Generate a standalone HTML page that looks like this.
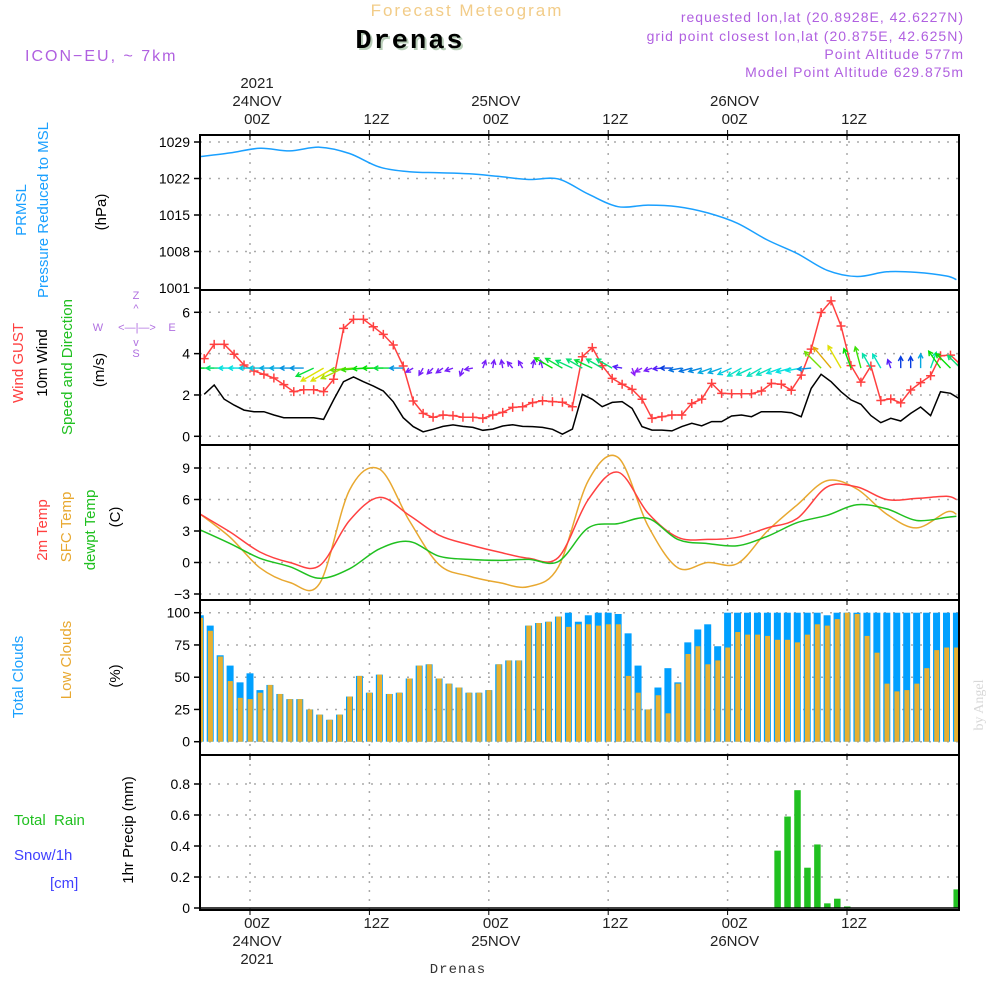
<!DOCTYPE html>
<html><head><meta charset="utf-8"><style>
body{margin:0;background:#fff;}
svg text{font-family:"Liberation Sans",sans-serif;}
</style></head><body>
<svg id="c" width="1000" height="1000" viewBox="0 0 1000 1000" xmlns="http://www.w3.org/2000/svg">
<rect width="1000" height="1000" fill="#fff"/>
<text x="467" y="16" text-anchor="middle" font-size="17" fill="#f2cc88" letter-spacing="2">Forecast Meteogram</text>
<text x="412" y="50" text-anchor="middle" font-size="27" font-weight="bold" fill="#b8cdb8" letter-spacing="2" style="font-family:'Liberation Mono',monospace">Drenas</text>
<text x="410" y="48" text-anchor="middle" font-size="27" font-weight="bold" fill="#000" letter-spacing="2" style="font-family:'Liberation Mono',monospace">Drenas</text>
<text x="25" y="61" font-size="16" fill="#b060e0" letter-spacing="2">ICON−EU, ~ 7km</text>
<g font-size="14" fill="#b060e0" text-anchor="end" letter-spacing="1">
<text x="964" y="22">requested lon,lat (20.8928E, 42.6227N)</text>
<text x="964" y="41">grid point closest lon,lat (20.875E, 42.625N)</text>
<text x="964" y="59">Point Altitude 577m</text>
<text x="964" y="77">Model Point Altitude 629.875m</text>
</g>
<g id="axes"></g>
<g id="labels" font-size="15">
<g>
<text transform="translate(26,210) rotate(-90)" text-anchor="middle" fill="#1aa0ff">PRMSL</text>
<text transform="translate(48,210) rotate(-90)" text-anchor="middle" fill="#1aa0ff">Pressure Reduced to MSL</text>
<text transform="translate(106,212) rotate(-90)" text-anchor="middle" fill="#000">(hPa)</text>
</g>
<g>
<text transform="translate(23,363) rotate(-90)" text-anchor="middle" fill="#ff4040">Wind GUST</text>
<text transform="translate(47,363) rotate(-90)" text-anchor="middle" fill="#000">10m Wind</text>
<text transform="translate(72,367) rotate(-90)" text-anchor="middle" fill="#20c020">Speed and Direction</text>
<text transform="translate(104,370) rotate(-90)" text-anchor="middle" fill="#000">(m/s)</text>
</g>
<g font-size="11" fill="#b070e0">
<text x="136" y="299" text-anchor="middle">Z</text>
<text x="136" y="312" text-anchor="middle">^</text>
<text x="98" y="331" text-anchor="middle">W</text>
<text x="137" y="331" text-anchor="middle">&lt;—|—&gt;</text>
<text x="172" y="331" text-anchor="middle">E</text>
<text x="136" y="346" text-anchor="middle">v</text>
<text x="136" y="357" text-anchor="middle">S</text>
</g>
<g>
<text transform="translate(47,530) rotate(-90)" text-anchor="middle" fill="#ff4040">2m Temp</text>
<text transform="translate(71,527) rotate(-90)" text-anchor="middle" fill="#e8a830">SFC Temp</text>
<text transform="translate(95,530) rotate(-90)" text-anchor="middle" fill="#20c020">dewpt Temp</text>
<text transform="translate(120,517) rotate(-90)" text-anchor="middle" fill="#000">(C)</text>
</g>
<g>
<text transform="translate(23,677) rotate(-90)" text-anchor="middle" fill="#1aa0ff">Total Clouds</text>
<text transform="translate(71,660) rotate(-90)" text-anchor="middle" fill="#e8a830">Low Clouds</text>
<text transform="translate(120,676) rotate(-90)" text-anchor="middle" fill="#000">(%)</text>
</g>
<g>
<text x="14" y="825" fill="#20c020" xml:space="preserve">Total  Rain</text>
<text x="14" y="860" fill="#4040ff">Snow/1h</text>
<text x="50" y="888" fill="#4040ff">[cm]</text>
<text transform="translate(133,830) rotate(-90)" text-anchor="middle" fill="#000">1hr Precip (mm)</text>
</g>
<text transform="translate(983,705) rotate(-90)" text-anchor="middle" font-size="14" fill="#d8d8d8" style="font-family:'Liberation Serif',serif">by Angel</text>
<text x="458" y="973" text-anchor="middle" font-size="14" fill="#333" letter-spacing="1" style="font-family:'Liberation Mono',monospace">Drenas</text>
</g>
<g id="plot"></g>
</svg>
<script>
// ---- data (hour index relative to 00Z 24NOV) ----
const hourStart = -5;
const cloudTotal = [98,90,67,59,46,53,40,44,37,33,33,25,21,17,21,35,51,38,52,37,38,49,59,60,49,45,42,38,38,40,60,63,63,90,92,93,97,100,93,98,100,100,99,84,59,25,42,57,46,77,87,91,74,100,100,100,100,100,100,100,100,100,100,98,100,100,100,100,100,100,100,100,100,100,100,100,100];
const cloudLow = [96,86,66,47,34,33,38,44,37,33,33,25,21,17,21,35,51,38,52,37,38,49,59,60,49,45,42,38,38,40,60,63,63,90,92,93,97,89,91,91,90,91,91,51,38,25,36,22,45,68,74,60,63,73,85,83,83,82,79,79,77,83,91,90,95,100,99,82,69,45,39,40,45,57,71,73,73];
const windGust = [3.76,4.45,4.45,3.97,3.45,3.16,3.0,2.82,2.5,2.16,2.25,2.25,2.16,2.76,5.22,5.66,5.66,5.3,4.93,4.42,3.4,1.71,1.11,0.92,1.03,1.0,0.92,0.92,0.87,1.03,1.16,1.4,1.43,1.63,1.72,1.68,1.65,1.43,3.85,4.29,3.42,2.8,2.52,2.27,1.79,0.87,0.95,1.03,1.03,1.59,1.8,2.56,2.08,2.06,2.06,2.06,2.19,2.56,2.52,2.23,2.96,4.22,5.99,6.55,5.34,3.42,2.62,3.4,1.73,1.81,1.62,2.24,2.6,2.93,3.9,3.93,3.48];
const wind10m = [2.03,2.48,1.8,1.51,1.27,1.19,1.19,1.03,0.9,0.9,0.9,0.9,0.82,1.76,2.64,2.87,2.64,2.43,2.19,1.67,0.9,0.47,0.22,0.34,0.48,0.55,0.48,0.43,0.29,0.35,0.5,0.56,0.48,0.47,0.43,0.34,0.1,0.35,2.03,1.79,1.43,1.64,1.68,1.35,0.47,0.3,0.3,0.26,0.47,0.63,0.51,0.71,0.71,0.98,1.03,0.95,1.19,1.19,1.19,1.14,0.95,2.32,3.0,2.64,2.16,1.76,1.55,1.0,0.66,0.87,0.74,1.11,1.42,1.0,2.16,2.08,1.79];
const arrowDir = [270,270,270,270,270,270,270,270,270,270,270,245,240,240,245,265,265,268,270,270,270,240,210,225,235,250,200,260,20,10,350,320,330,10,345,300,300,295,300,295,300,300,280,160,240,250,265,270,260,255,255,250,250,245,240,245,240,245,250,255,260,265,315,320,330,340,345,330,330,340,0,0,0,20,325,315,315];
const arrowSpd = [6,5.5,5,4,4,3.8,3.8,3.5,3.5,3.3,3.3,5.5,8,8,7.5,7,6.5,6,6,5.5,3.3,1.2,1.2,1.2,1.2,1.2,1.2,1.2,1.2,1.2,1.2,1.2,1.2,1.2,1.2,6,5.5,5,5,5.5,5,5,1.5,1,1,1.2,1.5,2.5,3,3,3.2,3.5,3.5,3.8,4.2,4.3,4.3,4.3,4,4,4,3.3,7,8.5,8,6,6.5,4.5,4.3,1.5,2.5,2.5,3.5,4.5,6,6,5];
const pTimes = [-5,-2,1,4,7,10,13,16,19,22,25,28,31,34,37,40,43,46,49,52,55,58,61,64,67,70,71];
const pressure = [1026.2,1026.9,1027.8,1027.3,1028.0,1026.8,1024.2,1023.3,1023.1,1022.9,1022.4,1021.8,1021.9,1019.0,1016.6,1016.9,1016.6,1015.4,1013.4,1010.2,1007.6,1004.4,1003.2,1004.1,1004.0,1003.3,1002.6];
const tTimes = pTimes;
const temp2m = [4.6,2.9,1.0,0.0,-0.3,4.0,6.2,4.5,2.6,1.7,1.0,0.4,0.5,6.0,8.6,4.7,2.4,2.2,2.4,3.3,4.2,7.2,7.2,6.0,6.1,6.3,6.0];
const tempSfc = [4.6,2.4,-0.5,-1.9,-2.0,6.9,8.9,4.0,-0.2,-1.3,-1.9,-2.3,-0.4,7.8,10.0,3.5,-0.5,0.0,-0.1,3.0,5.5,7.8,7.0,4.6,3.3,4.8,4.6];
const dewpt = [3.1,1.8,0.4,-0.4,-1.5,-0.6,1.3,2.0,0.6,0.3,0.2,0.3,0.1,3.3,3.7,4.2,2.2,1.8,1.6,2.5,3.8,4.5,5.5,5.1,4.0,4.3,4.4];
const rainTimes = [53,54,55,56,57,58,59,60,71];
const rainVals = [0.37,0.59,0.76,0.26,0.41,0.03,0.06,0.01,0.12];
const pTicks = [1029,1022,1015,1008,1001];
const wTicks = [6,4,2,0];
const tTicks = [9,6,3,0,-3];
const cTicks = [100,75,50,25,0];
const rTicks = [0.8,0.6,0.4,0.2,0];
const timeGrid = [0,12,24,36,48,60];
const topTimeLabels = [["2021","24NOV","00Z"],["","","12Z"],["","25NOV","00Z"],["","","12Z"],["","26NOV","00Z"],["","","12Z"]];

// ---- scales ----
const X0=200, X1=959;
const x = h => 250 + h*9.95;
const lin = (d0,d1,r0,r1) => v => r0 + (v-d0)*(r1-r0)/(d1-d0);
const yP = lin(1001,1029,288,142);
const yW = lin(0,6,436.3,312.3);
const yT = lin(-3,9,594,468);
const yC = lin(0,100,741.7,612.7);
const yR = lin(0,0.8,908,784);
const panels = [[135,290],[290,445],[445,600],[600,755],[755,910]];
const NS="http://www.w3.org/2000/svg";
function mk(parent,tag,attrs){const e=document.createElementNS(NS,tag);for(const k in attrs)e.setAttribute(k,attrs[k]);parent.appendChild(e);return e;}
const plot=document.getElementById('plot');
const axes=document.getElementById('axes');
const clip=mk(plot,'clipPath',{id:'cl'});mk(clip,'rect',{x:X0,y:135,width:X1-X0,height:775});

const tickSets=[[pTicks,yP,'pressure'],[wTicks,yW,'wind'],[tTicks,yT,'temperature'],[cTicks,yC,'cloud'],[rTicks,yR,'precip']];
tickSets.forEach(([ticks,sc,nm],pi)=>{
  const g=mk(axes,'g',{});
  
  
  ticks.forEach(v=>{
    const yy=sc(v);
    if(yy>panels[pi][0]+3&&yy<panels[pi][1]-3) mk(g,'line',{x1:X0,x2:X1,y1:yy,y2:yy,stroke:'#aaa','stroke-dasharray':'2,7','stroke-width':1.5});
    mk(g,'line',{x1:X0-6,x2:X0,y1:yy,y2:yy,stroke:'#000','stroke-width':1.5});
    const t=mk(g,'text',{x:X0-10,y:yy+5,'text-anchor':'end','font-size':14,fill:'#000'});
    t.textContent = (nm==='precip' && v===0) ? '0' : (v<0?'−'+(-v):String(v));
  });
  timeGrid.forEach(h=>{
    mk(g,'line',{x1:x(h),x2:x(h),y1:panels[pi][0],y2:panels[pi][1],stroke:'#aaa','stroke-dasharray':'2,7','stroke-width':1.5});
    mk(g,'line',{x1:x(h),x2:x(h),y1:panels[pi][0],y2:panels[pi][0]+5,stroke:'#000','stroke-width':1});
  });
});
const tl=mk(axes,'g',{'font-size':15,fill:'#222','text-anchor':'middle'});


timeGrid.forEach((h,i)=>{
  const lab=topTimeLabels[i];
  [88,106,124].forEach((yy,j)=>{if(lab[j]){const t=mk(tl,'text',{x:x(h)+7,y:yy});t.textContent=lab[j];}});
  [928,946,964].forEach((yy,j)=>{const s=lab[2-j]; if(s){const t=mk(tl,'text',{x:x(h)+7,y:yy});t.textContent=s;}});
  mk(tl,'line',{x1:x(h),x2:x(h),y1:130,y2:135,stroke:'#000'});
  mk(tl,'line',{x1:x(h),x2:x(h),y1:910,y2:915,stroke:'#000'});
});

const data=mk(plot,'g',{'clip-path':'url(#cl)'});
function line(times,vals,sc,col,name,off,smooth){
  const pts=vals.map((v,i)=>[x(times[i]+off),sc(v)]);
  let d='M'+pts[0][0].toFixed(1)+','+pts[0][1].toFixed(1);
  for(let i=1;i<pts.length;i++){
    if(!smooth){d+='L'+pts[i][0].toFixed(1)+','+pts[i][1].toFixed(1);continue;}
    const p0=pts[Math.max(0,i-2)],p1=pts[i-1],p2=pts[i],p3=pts[Math.min(pts.length-1,i+1)];
    const c1=[p1[0]+(p2[0]-p0[0])/6,p1[1]+(p2[1]-p0[1])/6];
    const c2=[p2[0]-(p3[0]-p1[0])/6,p2[1]-(p3[1]-p1[1])/6];
    d+=`C${c1[0].toFixed(1)},${c1[1].toFixed(1)} ${c2[0].toFixed(1)},${c2[1].toFixed(1)} ${p2[0].toFixed(1)},${p2[1].toFixed(1)}`;
  }
  const p=mk(data,'path',{d:d,fill:'none',stroke:col,'stroke-width':1.5});
  
  
  return p;
}
const hours = windGust.map((_,i)=>hourStart+i);
line(pTimes,pressure,yP,'#1aa0ff','pressure-line',0,true);
line(hours,wind10m,yW,'#000','wind-10m-line',0.4,false);
line(hours,windGust,yW,'#ff4040','wind-gust-line',0.4,false);
hours.forEach((h,i)=>{
  const cx=x(h+0.4),cy=yW(windGust[i]);
  const m=mk(data,'path',{d:`M${cx-4.5},${cy}H${cx+4.5}M${cx},${cy-4.5}V${cy+4.5}`,stroke:'#ff4040','stroke-width':1.5});
  
  
});
hours.forEach((h,i)=>{
  const s=arrowSpd[i], a=arrowDir[i]*Math.PI/180;
  const L=5+s*2.6, hue=Math.max(30,300-s*30);
  const col=`hsl(${hue},95%,${hue>240?55:45}%)`;
  const bx=x(h+0.4), by=yW(3.3);
  const tx=bx+Math.sin(a)*L, ty=by-Math.cos(a)*L;
  const hx1=tx-Math.sin(a-0.5)*5, hy1=ty+Math.cos(a-0.5)*5;
  const hx2=tx-Math.sin(a+0.5)*5, hy2=ty+Math.cos(a+0.5)*5;
  const ar=mk(data,'path',{d:`M${bx},${by}L${tx},${ty}M${hx1},${hy1}L${tx},${ty}L${hx2},${hy2}`,stroke:col,'stroke-width':1.4,fill:'none'});
  
  
});
line(tTimes,tempSfc,yT,'#e8a830','sfc-temp-line',0,true);
line(tTimes,temp2m,yT,'#ff4040','temp-2m-line',0,true);
line(tTimes,dewpt,yT,'#20c020','dewpoint-line',0,true);
hours.forEach((h,i)=>{
  const bt=mk(data,'rect',{x:x(h)-3.5,y:yC(cloudTotal[i]),width:7,height:yC(0)-yC(cloudTotal[i]),fill:'#00a0ff'});
  
  
  const bl=mk(data,'rect',{x:x(h)-2.3,y:yC(cloudLow[i]),width:5,height:yC(0)-yC(cloudLow[i]),fill:'#e8b030'});
  
  
});
rainTimes.forEach((h,i)=>{
  const b=mk(data,'rect',{x:x(h)-3,y:yR(rainVals[i]),width:6.5,height:yR(0)-yR(rainVals[i]),fill:'#20c020'});
  
  
});
const sn=mk(data,'line',{x1:X0,x2:X1,y1:yR(0),y2:yR(0),stroke:'#000','stroke-width':1.5});


panels.forEach(([a,b],i)=>{
  const r=mk(plot,'rect',{x:X0,y:a,width:X1-X0,height:b-a,fill:'none',stroke:'#000','stroke-width':2});
  
  
});
</script>
</body></html>
